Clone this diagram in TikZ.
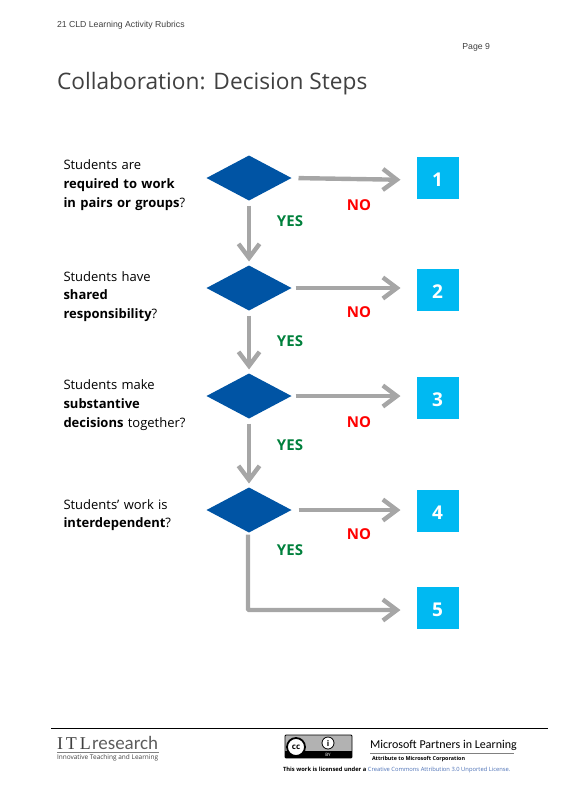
\documentclass[tikz,border=0pt]{standalone}
\usepackage{fontspec}
\setmainfont{Open Sans}
\newfontfamily\headfont{Liberation Sans}
\newfontfamily\logofont{Liberation Serif}
\newfontfamily\msfont{Carlito}
\usepackage{xcolor}
\usetikzlibrary{arrows.meta,positioning,shapes.geometric}
\definecolor{decblue}{HTML}{0054A4}
\definecolor{boxcyan}{HTML}{00B9F2}
\definecolor{flowgray}{HTML}{A6A6A6}
\definecolor{yesgreen}{HTML}{00803C}
\definecolor{textdark}{HTML}{404040}
\definecolor{linkblue}{HTML}{4A6FB5}
\begin{document}
\begin{tikzpicture}[x=1pt,y=-1pt,inner sep=0pt,outer sep=0pt,
  every node/.style={align=left},
  decision/.style={diamond,fill=decblue,minimum width=85pt,minimum height=45pt,aspect=1.9},
  stepbox/.style={fill=boxcyan,text=white,minimum size=42pt,align=center,text height=17pt,text depth=0pt,font=\fontsize{19}{22}\selectfont\bfseries},
  question/.style={text width=134pt,font=\fontsize{13}{18.7}\selectfont,text=black},
  yeslabel/.style={text=yesgreen,font=\fontsize{15}{17}\selectfont\bfseries},
  nolabel/.style={text=red,font=\fontsize{15}{17}\selectfont\bfseries},
  flow/.style={draw=flowgray,line width=4.4pt,-{Straight Barb[length=14pt,width=21pt,line width=4.4pt]}}]
\useasboundingbox (0,0) rectangle (570,803);
% header
\node[anchor=west,font=\fontsize{8.7}{10}\selectfont\headfont,text=textdark] (head) at (57,25) {21 CLD Learning Activity Rubrics};
\node[anchor=east,font=\fontsize{8.7}{10}\selectfont\headfont,text=textdark] (page) at (490,47) {Page 9};
\node[anchor=west,font=\fontsize{22.7}{28}\selectfont,text=textdark] (title) at (57,84) {Collaboration: Decision Steps};
% decisions
\node[decision] (dec1) at (249,178) {};
\node[decision,below=65pt of dec1] (dec2) {};
\node[decision,below=63pt of dec2] (dec3) {};
\node[decision,below=69pt of dec3] (dec4) {};
% questions
\node[question,left=9pt of dec1,yshift=-7pt] (q1) {Students are\\\textbf{required to work}\\\textbf{in pairs or groups}?};
\node[question,left=9pt of dec2,yshift=-8.5pt] (q2) {Students have\\\textbf{shared}\\\textbf{responsibility}?};
\node[question,left=9pt of dec3,yshift=-9pt] (q3) {Students make\\\textbf{substantive}\\\textbf{decisions} together?};
\node[question,left=9pt of dec4,yshift=-5pt] (q4) {Students’ work is\\\textbf{interdependent}?};
% results
\node[stepbox,right=125pt of dec1] (box1) {1};
\node[stepbox,right=125pt of dec2,yshift=-2pt] (box2) {2};
\node[stepbox,right=125pt of dec3,yshift=-2pt] (box3) {3};
\node[stepbox,right=125pt of dec4,yshift=-1pt] (box4) {4};
\node[stepbox,below=55pt of box4] (box5) {5};
% labels
\foreach \i/\yy in {1/43,2/53,3/49,4/40}{
  \node[yeslabel] (yes\i) at (dec\i) [xshift=41pt,yshift=-\yy pt] {YES};
}
\foreach \i/\ny in {1/27,2/24,3/26,4/24}{
  \node[nolabel] (no\i) at (dec\i) [xshift=110pt,yshift=-\ny pt] {NO};
}
% connectors
\draw[flow,shorten <=5pt,shorten >=4pt] (dec1)--(dec2);
\draw[flow,shorten <=5pt,shorten >=4pt] (dec2)--(dec3);
\draw[flow,shorten <=5pt,shorten >=4pt] (dec3)--(dec4);
\draw[flow,shorten <=7pt,shorten >=16pt] (dec1.east)--([yshift=-2pt]box1.west);
\draw[flow,shorten <=4pt,shorten >=16pt] (dec2.east)--([yshift=2pt]box2.west);
\draw[flow,shorten <=4pt,shorten >=16pt] (dec3.east)--([yshift=2pt]box3.west);
\draw[flow,shorten <=7pt,shorten >=16pt] (dec4.east)--([yshift=1pt]box4.west);
\draw[flow,rounded corners=1pt,shorten <=2pt,shorten >=16pt] ([xshift=-1pt]dec4.south) |- ([yshift=-2pt]box5.west);
% footer
\coordinate (ruleL) at (51,728);
\coordinate (ruleR) at (548,728);
\draw[black,line width=.9pt] (ruleL)--(ruleR);
\node[anchor=base west,font=\fontsize{18}{20}\selectfont\logofont,text=textdark] (itl) at (57,749) {I\,T\,L};
\node[anchor=base west,font=\fontsize{19}{20}\selectfont\msfont,text=textdark!85] (research) at (92,749) {research};
\coordinate (itllineL) at (57,752);
\coordinate (itllineR) at (159,752);
\draw[gray,line width=.4pt] (itllineL)--(itllineR);
\node[anchor=west,font=\fontsize{6.5}{8}\selectfont,text=textdark] (itlsub) at (57,757.5) {Innovative Teaching and Learning};
\node[draw=black,fill=gray!60,line width=.8pt,minimum width=67pt,minimum height=23pt,rounded corners=1pt] (ccbadge) at (318.5,746.5) {};
\fill[black] ([yshift=7pt]ccbadge.south west) rectangle (ccbadge.south east);
\node[draw=black,fill=white,circle,line width=1.8pt,minimum size=18pt,font=\fontsize{8}{9}\selectfont\bfseries] (cc) at (296,747) {cc};
\node[draw=black,fill=white,circle,line width=.8pt,minimum size=12pt,font=\fontsize{8}{9}\selectfont\bfseries] (by) at (328,743) {i};
\node[text=white,font=\fontsize{4.5}{5}\selectfont] (bytext) at (328,755) {BY};
\node[anchor=west,font=\fontsize{12}{14}\selectfont\msfont,text=black] (mspl) at (370,745.5) {Microsoft Partners in Learning};
\coordinate (mslineL) at (370,753);
\coordinate (mslineR) at (514,753);
\draw[gray,line width=.4pt] (mslineL)--(mslineR);
\node[anchor=west,font=\fontsize{5.4}{7}\selectfont\bfseries,text=black] (attr) at (372,759) {Attribute to Microsoft Corporation};
\node[anchor=west,font=\fontsize{5.8}{7}\selectfont,text=black] (lic) at (283,770) {\textbf{This work is licensed under a} \textcolor{linkblue}{Creative Commons Attribution 3.0 Unported License.}};
\end{tikzpicture}
\end{document}
